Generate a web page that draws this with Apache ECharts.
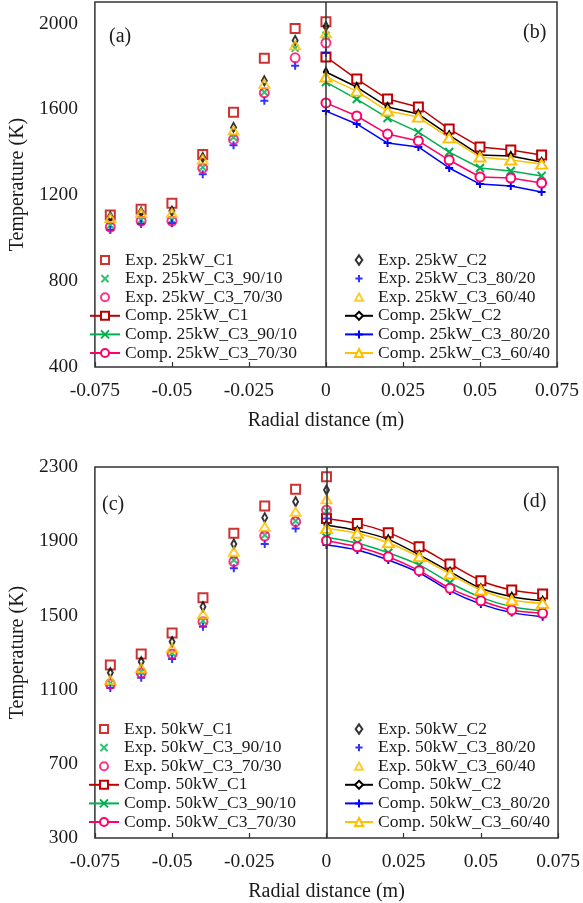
<!DOCTYPE html>
<html>
<head>
<meta charset="utf-8">
<script src="https://cdn.jsdelivr.net/npm/echarts@6/dist/echarts.min.js"></script>
<style>
html,body{margin:0;padding:0;background:#fff;}
#c{width:583px;height:903px;}
</style>
</head>
<body>
<div id="c"></div>
<script>
// ---------- data ----------
const xExp = [-0.07, -0.06, -0.05, -0.04, -0.03, -0.02, -0.01, 0];
const xComp = [0, 0.01, 0.02, 0.03, 0.04, 0.05, 0.06, 0.07];

// 25 kW experimental
const exp25_C1   = [1108, 1135, 1163, 1390, 1586, 1838, 1977, 2008];
const exp25_C2   = [1100, 1122, 1126, 1376, 1516, 1733, 1921, 1986];
const exp25_9010 = [1060, 1085, 1085, 1330, 1470, 1680, 1884, 1945];
const exp25_8020 = [1038, 1066, 1070, 1298, 1433, 1640, 1803, 1863];
const exp25_7030 = [1052, 1080, 1080, 1326, 1460, 1677, 1840, 1909];
const exp25_6040 = [1094, 1117, 1117, 1367, 1502, 1719, 1898, 1954];
// 25 kW computed
const comp25_C1   = [1844, 1741, 1648, 1611, 1508, 1425, 1411, 1387];
const comp25_C2   = [1774, 1704, 1611, 1578, 1480, 1387, 1383, 1355];
const comp25_9010 = [1727, 1648, 1560, 1494, 1401, 1327, 1313, 1290];
const comp25_8020 = [1592, 1532, 1443, 1425, 1327, 1252, 1243, 1215];
const comp25_7030 = [1630, 1569, 1485, 1453, 1364, 1285, 1280, 1257];
const comp25_6040 = [1751, 1685, 1592, 1564, 1467, 1378, 1364, 1345];

// 50 kW experimental
const exp50_C1   = [1233, 1292, 1405, 1595, 1943, 2090, 2180, 2248];
const exp50_C2   = [1191, 1250, 1358, 1547, 1885, 2027, 2113, 2176];
const exp50_9010 = [1135, 1196, 1297, 1471, 1799, 1933, 2009, 2062];
const exp50_8020 = [1109, 1164, 1265, 1439, 1754, 1885, 1969, 2023];
const exp50_7030 = [1130, 1189, 1292, 1466, 1790, 1928, 2005, 2068];
const exp50_6040 = [1152, 1216, 1324, 1507, 1843, 1978, 2059, 2126];
// 50 kW computed
const comp50_C1   = [2023, 1996, 1946, 1870, 1777, 1687, 1637, 1615];
const comp50_C2   = [1987, 1957, 1910, 1826, 1736, 1646, 1601, 1579];
const comp50_9010 = [1921, 1889, 1838, 1772, 1676, 1597, 1547, 1525];
const comp50_8020 = [1880, 1853, 1799, 1730, 1632, 1561, 1515, 1493];
const comp50_7030 = [1903, 1870, 1816, 1741, 1646, 1579, 1529, 1511];
const comp50_6040 = [1970, 1943, 1892, 1816, 1723, 1637, 1583, 1565];

const yTicksTop = {min: 400, max: 2100, interval: 400};
const yTicksBottom = {min: 300, max: 2300, interval: 400};
const xTicks = {min: -0.075, max: 0.075, interval: 0.025};
const panelLabels = ['(a)', '(b)', '(c)', '(d)'];

// ---------- styles ----------
const FONT = "'Liberation Serif', 'Times New Roman', serif";
const TXT = '#1a1a1a';
const COL = {C1: '#C00000', C2: '#000000', g: '#00B050', b: '#0000FF', p: '#FF0066', y: '#FFC000'};
const SYM = {
  square: 'path://M0,0L10,0L10,10L0,10Z',
  diamond: 'path://M5,0L10,7L5,14L0,7Z',
  triangle: 'path://M5,0L10,9L0,9Z',
  circle: 'circle',
  x: 'path://M0,0L10,10M10,0L0,10',
  plus: 'path://M5,0L5,10M0,5L10,5'
};
// slightly smaller legend icons for the experimental markers (padded bounding box)
const PAD = 'M-1.2,-1.2M11.2,11.2';
const LEG_ICON = {
  square: 'path://' + PAD + 'M0,0L10,0L10,10L0,10Z',
  diamond: 'path://M-1.5,-0.5M11.5,14.5M5,0L10,7L5,14L0,7Z',
  triangle: 'path://' + PAD + 'M5,0.5L10,9.5L0,9.5Z',
  circle: 'path://' + PAD + 'M10,5A5,5,0,1,1,0,5A5,5,0,1,1,10,5Z',
  x: 'path://M-2,-2M12,12M0,0L10,10M10,0L0,10',
  plus: 'path://M-2,-2M12,12M5,0L5,10M0,5L10,5'
};

function expS(name, vals, sym, color, size, gi) {
  return {
    type: 'scatter', name: name, xAxisIndex: gi, yAxisIndex: gi,
    data: xExp.map((x, i) => [x, vals[i]]),
    symbol: SYM[sym], symbolSize: size, symbolKeepAspect: true,
    itemStyle: {color: 'rgba(255,255,255,0)', borderColor: color, borderWidth: 2},
    z: 3
  };
}
function compS(name, vals, sym, color, size, gi, smooth, fill) {
  return {
    type: 'line', name: name, xAxisIndex: gi, yAxisIndex: gi,
    data: xComp.map((x, i) => [x, vals[i]]),
    symbol: SYM[sym], symbolSize: size, symbolKeepAspect: true, showSymbol: true,
    smooth: smooth,
    lineStyle: {color: color, width: 1.5},
    itemStyle: {color: fill || '#fff', borderColor: color, borderWidth: 2},
    z: 2
  };
}

const series = [];
function addSet(p, e, c, gi, smooth) {
  series.push(expS('Exp. ' + p + '_C1', e[0], 'square', COL.C1, 9, gi));
  series.push(expS('Exp. ' + p + '_C2', e[1], 'diamond', COL.C2, [7, 9], gi));
  series.push(expS('Exp. ' + p + '_C3_90/10', e[2], 'x', COL.g, 7, gi));
  series.push(expS('Exp. ' + p + '_C3_80/20', e[3], 'plus', COL.b, 8, gi));
  series.push(expS('Exp. ' + p + '_C3_70/30', e[4], 'circle', COL.p, 9, gi));
  series.push(expS('Exp. ' + p + '_C3_60/40', e[5], 'triangle', COL.y, [10, 9], gi));
  const c1 = compS('Comp. ' + p + '_C1', c[0], 'square', COL.C1, 9, gi, smooth);
  c1.markLine = {
    silent: true, symbol: ['none', 'none'], label: {show: false},
    lineStyle: {color: '#333', width: 1.5, type: 'solid'},
    data: [{xAxis: 0}], animation: false
  };
  series.push(c1);
  series.push(compS('Comp. ' + p + '_C2', c[1], 'diamond', COL.C2, [6, 8], gi, smooth, '#fff'));
  series.push(compS('Comp. ' + p + '_C3_90/10', c[2], 'x', COL.g, 8, gi, smooth));
  series.push(compS('Comp. ' + p + '_C3_80/20', c[3], 'plus', COL.b, 8, gi, smooth));
  series.push(compS('Comp. ' + p + '_C3_70/30', c[4], 'circle', COL.p, 9, gi, smooth));
  series.push(compS('Comp. ' + p + '_C3_60/40', c[5], 'triangle', COL.y, [11, 10], gi, smooth));
}
addSet('25kW',
  [exp25_C1, exp25_C2, exp25_9010, exp25_8020, exp25_7030, exp25_6040],
  [comp25_C1, comp25_C2, comp25_9010, comp25_8020, comp25_7030, comp25_6040], 0, false);
addSet('50kW',
  [exp50_C1, exp50_C2, exp50_9010, exp50_8020, exp50_7030, exp50_6040],
  [comp50_C1, comp50_C2, comp50_9010, comp50_8020, comp50_7030, comp50_6040], 1, 0.3);

function legendCol(p, left, top, side) {
  const names = side === 'L'
    ? [{name: 'Exp. ' + p + '_C1', icon: LEG_ICON.square},
       {name: 'Exp. ' + p + '_C3_90/10', icon: LEG_ICON.x},
       {name: 'Exp. ' + p + '_C3_70/30', icon: LEG_ICON.circle},
       'Comp. ' + p + '_C1', 'Comp. ' + p + '_C3_90/10', 'Comp. ' + p + '_C3_70/30']
    : [{name: 'Exp. ' + p + '_C2', icon: LEG_ICON.diamond},
       {name: 'Exp. ' + p + '_C3_80/20', icon: LEG_ICON.plus},
       {name: 'Exp. ' + p + '_C3_60/40', icon: LEG_ICON.triangle},
       'Comp. ' + p + '_C2', 'Comp. ' + p + '_C3_80/20', 'Comp. ' + p + '_C3_60/40'];
  return {
    orient: 'vertical', left: left, top: top, padding: 0,
    itemWidth: side === 'L' ? 30 : 28, itemHeight: 10, itemGap: 0.6,
    selectedMode: false,
    textStyle: {fontFamily: FONT, fontSize: 17.5, lineHeight: 16, color: TXT},
    data: names
  };
}

function xAxis(gi) {
  return {
    gridIndex: gi, type: 'value', min: xTicks.min, max: xTicks.max, interval: xTicks.interval,
    axisLine: {show: false},
    axisTick: {show: true, inside: true, length: 5, lineStyle: {color: '#333', width: 1.2}},
    splitLine: {show: false},
    axisLabel: {
      margin: 14, fontFamily: FONT, fontSize: 19.5, color: TXT,
      formatter: v => String(Math.round(v * 1000) / 1000)
    },
    name: 'Radial distance (m)', nameLocation: 'middle', nameGap: 44,
    nameTextStyle: {fontFamily: FONT, fontSize: 20, color: TXT}
  };
}
function yAxis(gi, t, showMax) {
  return {
    gridIndex: gi, type: 'value', min: t.min, max: t.max, interval: t.interval,
    axisLine: {show: false}, axisTick: {show: false}, splitLine: {show: false},
    axisLabel: {margin: 17, fontFamily: FONT, fontSize: 19.5, color: TXT, showMaxLabel: showMax,
      formatter: v => String(Math.round(v))},
    name: 'Temperature (K)', nameLocation: 'middle', nameGap: 63,
    nameTextStyle: {fontFamily: FONT, fontSize: 20, color: TXT}
  };
}
function panel(text, left, top) {
  return {text: text, left: left, top: top, padding: 0,
    textStyle: {fontFamily: FONT, fontSize: 20, fontWeight: 'normal', color: TXT}};
}

const chart = echarts.init(document.getElementById('c'), null, {renderer: 'canvas'});
chart.setOption({
  animation: false,
  backgroundColor: '#fff',
  title: [
    panel(panelLabels[0], 109, 27), panel(panelLabels[1], 523, 23),
    panel(panelLabels[2], 102, 495), panel(panelLabels[3], 523, 492)
  ],
  grid: [
    {left: 88, top: 2, width: 469, height: 365, show: true, borderColor: '#333', borderWidth: 1.5},
    {left: 86, top: 467, width: 475, height: 371, show: true, borderColor: '#333', borderWidth: 1.5}
  ],
  xAxis: [xAxis(0), xAxis(1)],
  yAxis: [yAxis(0, yTicksTop, false), yAxis(1, yTicksBottom, true)],
  legend: [
    legendCol('25kW', 89, 251, 'L'), legendCol('25kW', 344, 251, 'R'),
    legendCol('50kW', 88, 720, 'L'), legendCol('50kW', 344, 720, 'R')
  ],
  series: series
});
</script>
</body>
</html>
